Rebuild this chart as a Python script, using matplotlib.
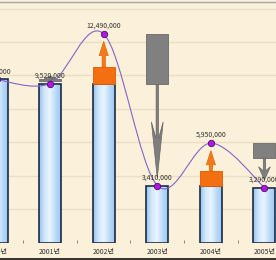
import matplotlib
matplotlib.use("Agg")
import numpy as np
import matplotlib.pyplot as plt
from matplotlib.path import Path
from matplotlib.patches import PathPatch, Rectangle, Polygon, FancyArrow
from matplotlib.colors import LinearSegmentedColormap

years = ["2000년", "2001년", "2002년", "2003년", "2004년", "2005년"]
values = [9760000, 9520000, 12490000, 3410000, 5950000, 3290000]

plt.rcParams["font.family"] = ["Noto Sans CJK KR", "DejaVu Sans"]

bg = "#fbf1da"
fig = plt.figure(figsize=(2.76, 2.6), dpi=100)
fig.patch.set_facecolor(bg)
ax = fig.add_axes([-30.25 / 276, 17.5 / 260, 321.5 / 276, 240.5 / 260])
ax.set_facecolor(bg)

x = np.arange(len(values))
vals = np.array(values, dtype=float)
ax.set_xlim(-0.5, len(values) - 0.5)
ax.set_ylim(0, 14.4e6)

# grid
ax.set_yticks(np.arange(2e6, 14.1e6, 2e6))
ax.yaxis.grid(True, color="#eadfc4", linewidth=1)
ax.set_axisbelow(True)
ax.tick_params(axis="y", left=False, labelleft=False)

ax.set_xticks(x)
ax.set_xticklabels(years, fontsize=5, color="#333333")
ax.set_xticks(x[:-1] + 0.5, minor=True)
ax.tick_params(axis="x", which="major", length=0, pad=4)
ax.tick_params(axis="x", which="minor", length=2, direction="in", color="#777777")

for s in ["left", "right", "bottom"]:
    ax.spines[s].set_visible(False)
ax.spines["top"].set_color("#a8a8a8")
ax.spines["top"].set_linewidth(1)

# bars: base = smaller of previous and current value
bar_w = 0.41
cmap = LinearSegmentedColormap.from_list(
    "barblue", ["#94c4f0", "#d2e7fb", "#eaf4ff", "#bcdbf8", "#9ccaf3"])
grad = np.linspace(0, 1, 64).reshape(1, -1)
prev = np.concatenate([[vals[0]], vals[:-1]])
base = np.minimum(prev, vals)
for xi, b in zip(x, base):
    rect = Rectangle((xi - bar_w / 2, 0), bar_w, b, facecolor="none",
                     edgecolor="#1c2a44", linewidth=1.2, zorder=3)
    ax.add_patch(rect)
    im = ax.imshow(grad, cmap=cmap, aspect="auto", zorder=2,
                   extent=(xi - bar_w / 2, xi + bar_w / 2, 0, b))
    im.set_clip_path(rect)

# change boxes and arrows
gap = 0.45e6
for xi in x[1:]:
    p, c = vals[xi - 1], vals[xi]
    d = c - p
    box_end = p + d / 3
    if d > 0:
        ax.add_patch(Rectangle((xi - bar_w / 2, p), bar_w, box_end - p,
                               facecolor="#f36f12", edgecolor="#e05a00",
                               linewidth=0.6, zorder=4))
        length = (c - gap) - box_end
        ax.add_patch(FancyArrow(xi, box_end, 0, length, width=0.06,
                                head_width=0.17, head_length=0.85e6,
                                length_includes_head=True,
                                facecolor="#f37a1c", edgecolor="#e36400",
                                linewidth=0.5, zorder=4))
    else:
        ax.add_patch(Rectangle((xi - bar_w / 2, box_end), bar_w, p - box_end,
                               facecolor="#808080", edgecolor="#6a6a6a",
                               linewidth=0.6, zorder=4))
        tip = c + gap
        L = (box_end - tip) * 0.6
        hw, sw = 0.11, 0.022
        head = [(xi, tip), (xi - hw, tip + L), (xi - sw, tip + 0.7 * L),
                (xi - sw, box_end), (xi + sw, box_end),
                (xi + sw, tip + 0.7 * L), (xi + hw, tip + L)]
        ax.add_patch(Polygon(head, closed=True, facecolor="#7e7e7e",
                             edgecolor="#666666", linewidth=0.5, zorder=4))

# smooth line through the points (Catmull-Rom as cubic Bezier)
pts = np.column_stack([x, vals])
ext = np.vstack([pts[0], pts, pts[-1]])
verts = [tuple(pts[0])]
codes = [Path.MOVETO]
for i in range(len(pts) - 1):
    p0, p1, p2, p3 = ext[i], ext[i + 1], ext[i + 2], ext[i + 3]
    c1 = p1 + (p2 - p0) / 6
    c2 = p2 - (p3 - p1) / 6
    verts += [tuple(c1), tuple(c2), tuple(p2)]
    codes += [Path.CURVE4] * 3
ax.add_patch(PathPatch(Path(verts, codes), facecolor="none",
                       edgecolor="#8065cc", linewidth=0.8, zorder=5))
ax.plot(x, vals, "o", markersize=4.6, markerfacecolor="#b414e6",
        markeredgecolor="#4a1060", markeredgewidth=0.6, zorder=6)

for xi, v in zip(x, vals):
    ax.annotate(f"{int(v):,}", (xi, v), xytext=(0, 6), textcoords="offset points",
                ha="center", va="center", fontsize=5, color="#333333", zorder=7)

# frame line at the bottom of the chart
fig.add_artist(plt.Line2D([0, 1], [1.5 / 260, 1.5 / 260], color="#111111",
                          linewidth=1.2, transform=fig.transFigure))

fig.savefig("out.png", dpi=100, facecolor=fig.get_facecolor())
